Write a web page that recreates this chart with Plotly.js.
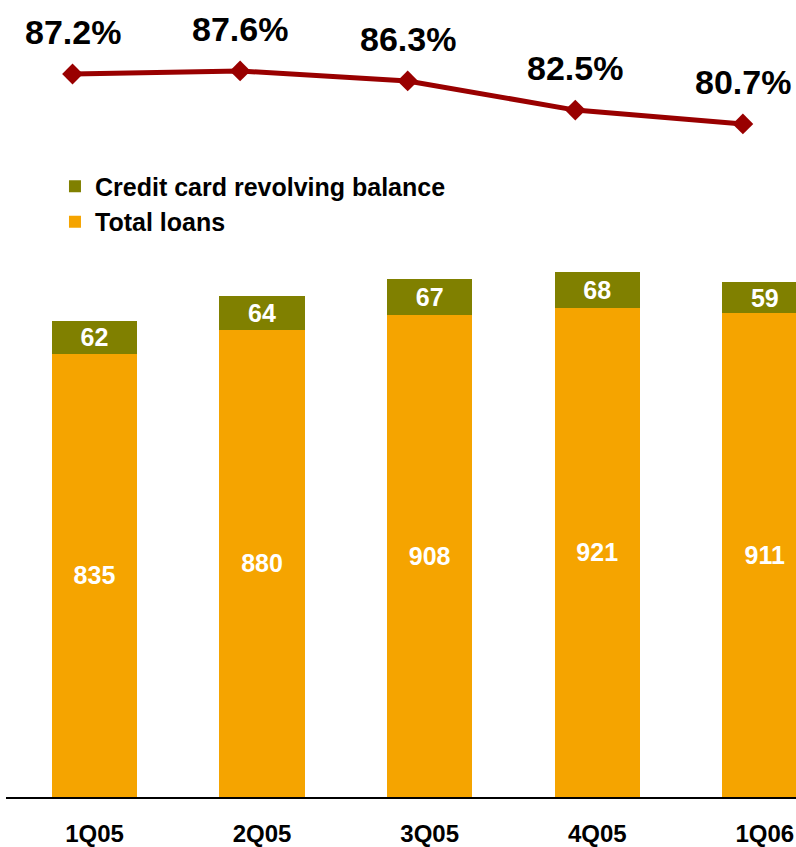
<!DOCTYPE html>
<html>
<head>
<meta charset="utf-8">
<script src="https://cdn.plot.ly/plotly-3.0.1.min.js"></script>
<style>
  body { margin: 0; background: #fff; }
  #chart { width: 796px; height: 847px; }
</style>
</head>
<body>
<div id="chart"></div>
<script>
var quarters = ["1Q05", "2Q05", "3Q05", "4Q05", "1Q06"];
var totalLoans = [835, 880, 908, 921, 911];
var creditCard = [62, 64, 67, 68, 59];
var ratio = [87.2, 87.6, 86.3, 82.5, 80.7];

var fontFam = "Liberation Sans, Arial, sans-serif";

var loansTrace = {
  x: quarters,
  y: totalLoans,
  type: "bar",
  name: "Total loans",
  marker: {color: "#F5A400"},
  text: totalLoans.map(String),
  textposition: "inside",
  insidetextanchor: "middle",
  textangle: 0,
  constraintext: "none",
  textfont: {family: fontFam, size: 25, color: "#fff", weight: "bold"},
  hoverinfo: "none"
};

var creditTrace = {
  x: quarters,
  y: creditCard,
  type: "bar",
  name: "Credit card revolving balance",
  marker: {color: "#808000"},
  text: creditCard.map(String),
  textposition: "inside",
  insidetextanchor: "middle",
  textangle: 0,
  constraintext: "none",
  textfont: {family: fontFam, size: 25, color: "#fff", weight: "bold"},
  hoverinfo: "none"
};

var ratioTrace = {
  x: quarters,
  y: ratio,
  type: "scatter",
  mode: "lines+markers",
  xaxis: "x2",
  yaxis: "y2",
  line: {color: "#990000", width: 5},
  marker: {symbol: "diamond", size: 16, color: "#990000"},
  showlegend: false,
  hoverinfo: "none"
};

var data = [loansTrace, creditTrace, ratioTrace];

var annotations = quarters.map(function (q, i) {
  return {
    x: q, y: ratio[i], xref: "x2", yref: "y2",
    text: ratio[i].toFixed(1) + "%",
    showarrow: false, yshift: 42,
    font: {family: fontFam, size: 34, color: "#000", weight: "bold"}
  };
});

var layout = {
  width: 796,
  height: 847,
  margin: {l: 6, r: 0, t: 0, b: 50},
  paper_bgcolor: "#fff",
  plot_bgcolor: "#fff",
  barmode: "stack",
  bargap: 0.49,
  showlegend: true,
  legend: {
    x: 0.062, y: 0.795, xanchor: "left", yanchor: "top",
    traceorder: "reversed",
    font: {family: fontFam, size: 25, color: "#000", weight: "bold"},
    bgcolor: "rgba(0,0,0,0)",
    itemwidth: 30,
    tracegroupgap: 0
  },
  xaxis: {
    type: "category",
    range: [-0.528, 4.186],
    showline: true, linecolor: "#000", linewidth: 2,
    ticks: "", showgrid: false, zeroline: false,
    ticklabelstandoff: 14,
    tickfont: {family: fontFam, size: 24, color: "#000", weight: "bold"}
  },
  yaxis: {
    range: [0, 1501],
    visible: false, showgrid: false, zeroline: false
  },
  xaxis2: {
    type: "category",
    overlaying: "x",
    range: [-0.397, 4.317],
    visible: false
  },
  yaxis2: {
    overlaying: "y",
    range: [-6.96, 96.84],
    visible: false
  },
  annotations: annotations
};

Plotly.newPlot("chart", data, layout, {displayModeBar: false, staticPlot: true});
</script>
</body>
</html>
